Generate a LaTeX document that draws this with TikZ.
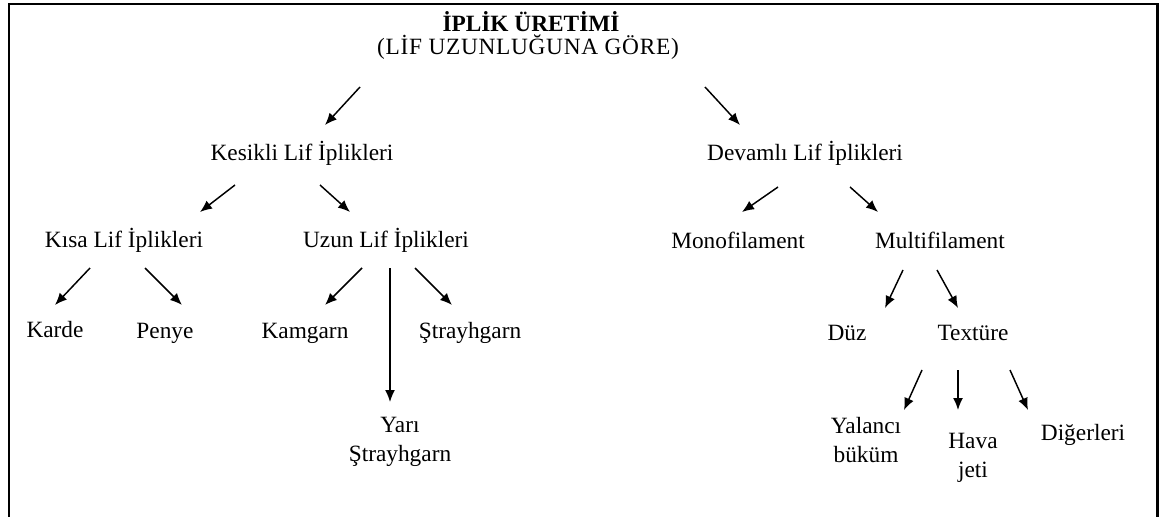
\documentclass[tikz,border=0pt]{standalone}
\usepackage{fontspec}
\setmainfont{Liberation Serif}
\usepackage{tikz}
\usetikzlibrary{calc,positioning,arrows,arrows.meta}

\tikzset{
  lbl/.style={font=\fontsize{17.5}{21.5}\selectfont, inner sep=0pt, align=center},
  arr/.style={-{Latex[length=9pt,width=7.5pt]}, line width=1.1pt}
}

\begin{document}
\begin{tikzpicture}[x=0.75pt,y=-0.75pt]
\useasboundingbox (0,0) rectangle (1159,517);
% frame (open at the bottom)
\draw[line width=1.8pt] (9,517) -- (9,4) -- (1157.5,4) -- (1157.5,517);

% labels
\node[lbl,font=\fontsize{17.5}{21.5}\selectfont\bfseries] (title) at (531,22) {İPLİK ÜRETİMİ};
\node[lbl,font=\fontsize{17.5}{21.5}\selectfont\addfontfeature{LetterSpace=3}] (sub) at (528,47) {(LİF UZUNLUĞUNA GÖRE)};
\node[lbl] (kes) at (302,153) {Kesikli Lif İplikleri};
\node[lbl] (dev) at (805,153) {Devamlı Lif İplikleri};
\node[lbl] (kisa) at (124,240) {Kısa Lif İplikleri};
\node[lbl] (uzun) at (386,240) {Uzun Lif İplikleri};
\node[lbl] (mono) at (738,240) {Monofilament};
\node[lbl] (multi) at (940,240) {Multifilament};
\node[lbl] (karde) at (55,330) {Karde};
\node[lbl] (penye) at (165,333) {Penye};
\node[lbl] (kamgarn) at (305,333) {Kamgarn};
\node[lbl] (stray) at (470,333) {Ştrayhgarn};
\node[lbl] (yari) at (400,442) {Yarı\\Ştrayhgarn};
\node[lbl] (duz) at (847,333) {Düz};
\node[lbl] (tex) at (973,333) {Textüre};
\node[lbl] (yal) at (866,440) {Yalancı\\büküm};
\node[lbl] (hava) at (973,458) {Hava\\jeti};
\node[lbl] (dig) at (1083,435) {Diğerleri};

% arrow ends
\coordinate (sub-l) at (360,87);   \coordinate (kes-t) at (325,125);
\coordinate (sub-r) at (705,87);   \coordinate (dev-t) at (740,125);
\coordinate (kes-l) at (235,185);  \coordinate (kisa-t) at (200,212);
\coordinate (kes-r) at (320,185);  \coordinate (uzun-t) at (350,212);
\coordinate (dev-l) at (778,187);  \coordinate (mono-t) at (742,212);
\coordinate (dev-r) at (850,187);  \coordinate (multi-t) at (878,212);
\coordinate (kisa-l) at (90,268);  \coordinate (karde-t) at (55,305);
\coordinate (kisa-r) at (145,268); \coordinate (penye-t) at (182,305);
\coordinate (uzun-l) at (362,268); \coordinate (kamgarn-t) at (325,305);
\coordinate (uzun-m) at (390,268); \coordinate (yari-t) at (390,402);
\coordinate (uzun-r) at (415,268); \coordinate (stray-t) at (452,305);
\coordinate (multi-l) at (903,270); \coordinate (duz-t) at (885,308);
\coordinate (multi-r) at (937,270); \coordinate (tex-t) at (958,308);
\coordinate (tex-l) at (922,370);  \coordinate (yal-t) at (904,410);
\coordinate (tex-m) at (958,370);  \coordinate (hava-t) at (958,410);
\coordinate (tex-r) at (1010,370); \coordinate (dig-t) at (1028,410);

\draw[arr] (sub-l) -- (kes-t);
\draw[arr] (sub-r) -- (dev-t);
\draw[arr] (kes-l) -- (kisa-t);
\draw[arr] (kes-r) -- (uzun-t);
\draw[arr] (dev-l) -- (mono-t);
\draw[arr] (dev-r) -- (multi-t);
\draw[arr] (kisa-l) -- (karde-t);
\draw[arr] (kisa-r) -- (penye-t);
\draw[arr] (uzun-l) -- (kamgarn-t);
\draw[arr] (uzun-m) -- (yari-t);
\draw[arr] (uzun-r) -- (stray-t);
\draw[arr] (multi-l) -- (duz-t);
\draw[arr] (multi-r) -- (tex-t);
\draw[arr] (tex-l) -- (yal-t);
\draw[arr] (tex-m) -- (hava-t);
\draw[arr] (tex-r) -- (dig-t);
\end{tikzpicture}
\end{document}
